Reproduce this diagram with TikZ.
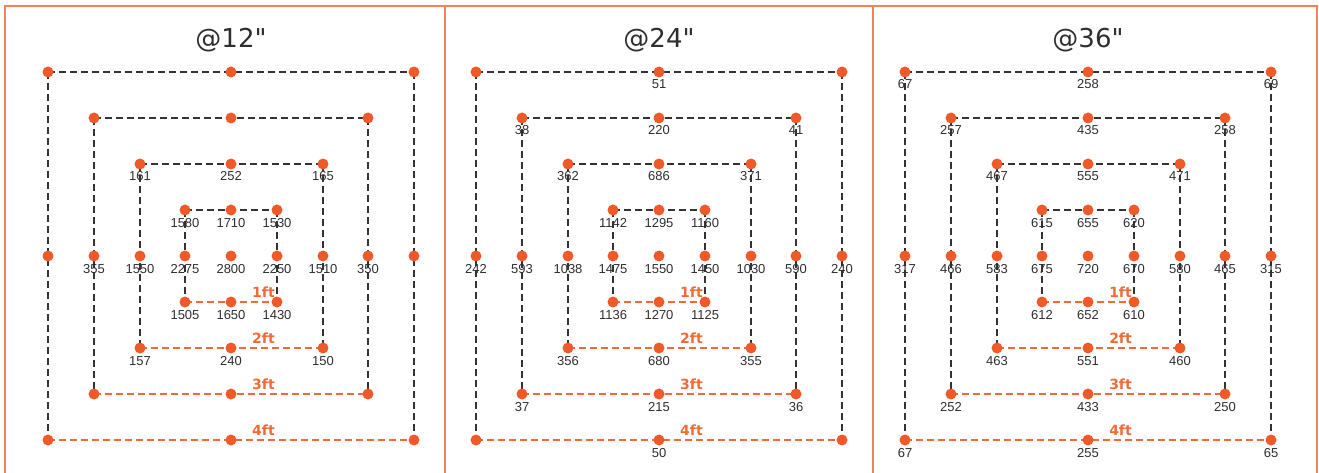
\documentclass[tikz,border=0pt]{standalone}
\usepackage{fontspec}
\newfontfamily\titlefont{DejaVu Sans}
\newfontfamily\numfont{Liberation Sans}
\usetikzlibrary{calc}
\definecolor{dotorange}{HTML}{F05A28}
\definecolor{lineorange}{HTML}{F26A38}
\definecolor{frameorange}{HTML}{F4825C}
\definecolor{darkline}{HTML}{333333}
\definecolor{numgray}{HTML}{2E2E2E}
\tikzset{
  frameline/.style={draw=frameorange, line width=1.6pt},
  darkdash/.style={draw=darkline, line width=1.5pt, dash pattern=on 7pt off 4pt},
  orangedash/.style={draw=lineorange, line width=1.5pt, dash pattern=on 7pt off 4pt},
  dotnode/.style={circle, fill=dotorange, inner sep=0pt, minimum size=11pt},
  numlabel/.style={font=\numfont\fontsize{13}{13}\selectfont, text=numgray, inner sep=0pt, anchor=base},
  ftlabel/.style={font=\titlefont\bfseries\fontsize{14}{14}\selectfont, text=lineorange, inner sep=0pt, anchor=base},
  titlelabel/.style={font=\titlefont\fontsize{26}{26}\selectfont, text=numgray, inner sep=0pt, anchor=base}
}
\begin{document}
\begin{tikzpicture}[x=1pt, y=-1pt]
\useasboundingbox (0,0) rectangle (1319,473);
% frame
\draw[frameline] (5,474) -- (5,6) -- (1317,6) -- (1317,474);
\draw[frameline] (445,6) -- (445,474);
\draw[frameline] (873,6) -- (873,474);
% grid coordinates
\foreach \p/\cx in {1/231, 2/659, 3/1088} {
  \foreach \i in {0,...,8} {
    \foreach \j in {0,...,8} {
      \pgfmathsetmacro{\gx}{round(\cx+(\i-4)*45.75)}
      \coordinate (g-\p-\i-\j) at (\gx, {72+\j*46});
    }
  }
}
% titles
\node[titlelabel] (t1) at (231,48) {@12"};
\node[titlelabel] (t2) at (659,48) {@24"};
\node[titlelabel] (t3) at (1088,48) {@36"};
% squares
\foreach \p in {1,2,3} {
  \foreach \k in {1,2,3,4} {
    \pgfmathtruncatemacro{\lo}{4-\k}
    \pgfmathtruncatemacro{\hi}{4+\k}
    \draw[darkdash] (g-\p-\lo-\lo) -- (g-\p-\hi-\lo);
    \draw[darkdash] (g-\p-\lo-\lo) -- (g-\p-\lo-\hi);
    \draw[darkdash] (g-\p-\hi-\lo) -- (g-\p-\hi-\hi);
    \draw[orangedash] (g-\p-\lo-\hi) -- (g-\p-\hi-\hi);
  }
}
% dots
\foreach \p in {1,2,3} {
  \node[dotnode] (d-\p-4-4) at (g-\p-4-4) {};
  \foreach \k in {1,2,3,4} {
    \pgfmathtruncatemacro{\lo}{4-\k}
    \pgfmathtruncatemacro{\hi}{4+\k}
    \foreach \a/\b in {\lo/\lo, 4/\lo, \hi/\lo, \lo/4, \hi/4, \lo/\hi, 4/\hi, \hi/\hi} {
      \node[dotnode] (d-\p-\a-\b) at (g-\p-\a-\b) {};
    }
  }
}
% ft labels
\foreach \p/\cx in {1/231, 2/659, 3/1088} {
  \foreach \k in {1,2,3,4} {
    \node[ftlabel] (ft-\p-\k) at ({\cx+32.5}, {256+\k*46-5}) {\k ft};
  }
}
% numbers, panel 1
\foreach \i/\j/\t in {2/2/161, 4/2/252, 6/2/165,
  3/3/1580, 4/3/1710, 5/3/1530,
  1/4/355, 2/4/1550, 3/4/2275, 4/4/2800, 5/4/2250, 6/4/1510, 7/4/350,
  3/5/1505, 4/5/1650, 5/5/1430,
  2/6/157, 4/6/240, 6/6/150} {
  \node[numlabel] (n-1-\i-\j) at ($(g-1-\i-\j)+(0,17)$) {\t};
}
% numbers, panel 2
\foreach \i/\j/\t in {4/0/51,
  1/1/38, 4/1/220, 7/1/41,
  2/2/362, 4/2/686, 6/2/371,
  3/3/1142, 4/3/1295, 5/3/1160,
  0/4/242, 1/4/593, 2/4/1038, 3/4/1475, 4/4/1550, 5/4/1450, 6/4/1030, 7/4/590, 8/4/240,
  3/5/1136, 4/5/1270, 5/5/1125,
  2/6/356, 4/6/680, 6/6/355,
  1/7/37, 4/7/215, 7/7/36,
  4/8/50} {
  \node[numlabel] (n-2-\i-\j) at ($(g-2-\i-\j)+(0,17)$) {\t};
}
% numbers, panel 3
\foreach \i/\j/\t in {0/0/67, 4/0/258, 8/0/69,
  1/1/257, 4/1/435, 7/1/258,
  2/2/467, 4/2/555, 6/2/471,
  3/3/615, 4/3/655, 5/3/620,
  0/4/317, 1/4/466, 2/4/583, 3/4/675, 4/4/720, 5/4/670, 6/4/580, 7/4/465, 8/4/315,
  3/5/612, 4/5/652, 5/5/610,
  2/6/463, 4/6/551, 6/6/460,
  1/7/252, 4/7/433, 7/7/250,
  0/8/67, 4/8/255, 8/8/65} {
  \node[numlabel] (n-3-\i-\j) at ($(g-3-\i-\j)+(0,17)$) {\t};
}
\end{tikzpicture}
\end{document}
